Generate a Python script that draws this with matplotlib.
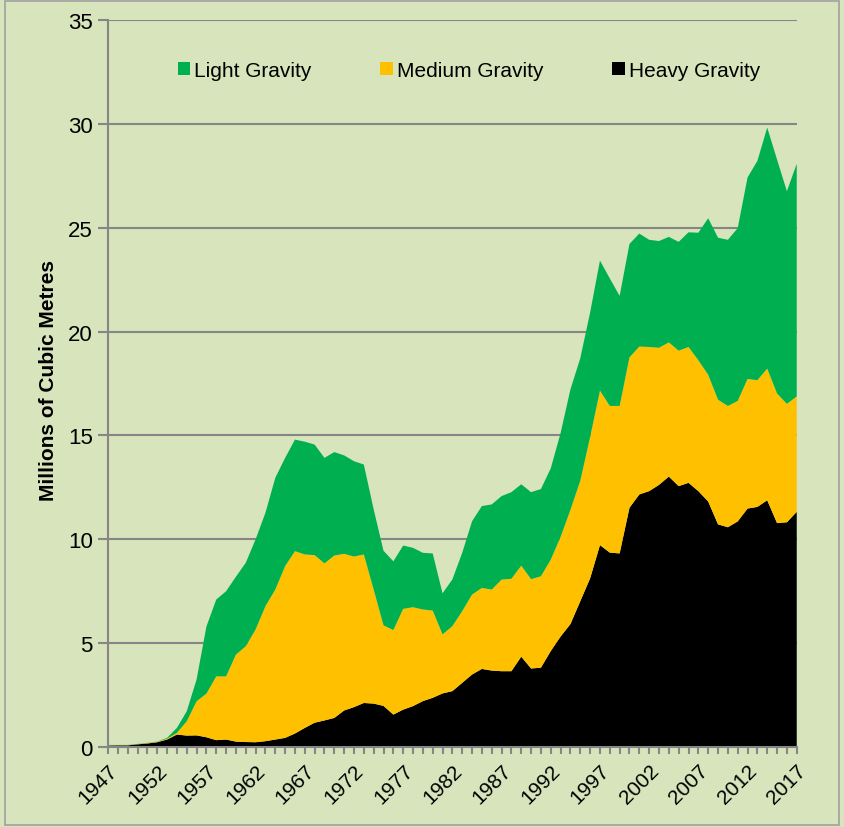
import matplotlib
matplotlib.use("Agg")
import matplotlib.pyplot as plt
from matplotlib.patches import Rectangle
from matplotlib.ticker import MultipleLocator

# values (millions of cubic metres)
years = list(range(1947, 2018))

heavy = [0.07, 0.08, 0.08, 0.13, 0.17, 0.23, 0.36, 0.60, 0.55, 0.56,
         0.47, 0.33, 0.36, 0.26, 0.24, 0.23, 0.28, 0.36, 0.44, 0.65,
         0.92, 1.17, 1.28, 1.40, 1.76, 1.92, 2.12, 2.09, 1.98, 1.56,
         1.80, 1.97, 2.21, 2.37, 2.58, 2.69, 3.09, 3.49, 3.76, 3.68,
         3.65, 3.65, 4.35, 3.78, 3.82, 4.62, 5.32, 5.92, 7.02, 8.12,
         9.72, 9.36, 9.32, 11.52, 12.16, 12.32, 12.62, 13.02, 12.56, 12.72,
         12.32, 11.82, 10.72, 10.58, 10.86, 11.48, 11.56, 11.88, 10.78, 10.82,
         11.32]

medium = [0.01, 0.01, 0.01, 0.01, 0.02, 0.02, 0.04, 0.08, 0.69, 1.64,
          2.10, 3.07, 3.04, 4.19, 4.61, 5.43, 6.50, 7.22, 8.27, 8.78,
          8.35, 8.07, 7.56, 7.82, 7.54, 7.25, 7.15, 5.49, 3.88, 4.07,
          4.85, 4.76, 4.41, 4.20, 2.84, 3.13, 3.45, 3.85, 3.90, 3.90,
          4.41, 4.45, 4.38, 4.30, 4.40, 4.40, 4.80, 5.50, 5.80, 6.80,
          7.44, 7.06, 7.10, 7.24, 7.12, 6.94, 6.60, 6.46, 6.52, 6.54,
          6.30, 6.10, 6.00, 5.84, 5.80, 6.24, 6.10, 6.34, 6.24, 5.70,
          5.56]

light = [0.02, 0.01, 0.01, 0.01, 0.01, 0.01, 0.04, 0.24, 0.48, 1.05,
         3.23, 3.70, 4.10, 3.75, 4.02, 4.34, 4.50, 5.38, 5.21, 5.37,
         5.43, 5.32, 5.08, 4.98, 4.74, 4.59, 4.33, 3.86, 3.59, 3.31,
         3.05, 2.86, 2.73, 2.75, 1.98, 2.25, 2.81, 3.53, 3.94, 4.10,
         4.02, 4.17, 3.92, 4.19, 4.20, 4.40, 5.00, 5.80, 5.90, 6.00,
         6.26, 6.14, 5.30, 5.46, 5.44, 5.16, 5.14, 5.08, 5.24, 5.52,
         6.14, 7.54, 7.80, 8.00, 8.32, 9.70, 10.56, 11.60, 11.26, 10.24,
         11.20]

series_names = ["Heavy Gravity", "Medium Gravity", "Light Gravity"]
series_colors = ["#000000", "#FFC000", "#00B050"]
label_years = list(range(1947, 2018, 5))

bg = "#D8E4BC"
grey = "#868686"

plt.rcParams["font.family"] = ["Liberation Sans", "DejaVu Sans"]

fig = plt.figure(figsize=(8.44, 8.28), dpi=100, facecolor=bg)
ax = fig.add_axes([0.128, 0.0966, 0.816, 0.878])
ax.set_facecolor(bg)

polys = ax.stackplot(years, heavy, medium, light, colors=series_colors,
                     labels=series_names, linewidth=0)

ax.set_xlim(1947, 2017)
ax.set_ylim(0, 35)
ax.yaxis.set_major_locator(MultipleLocator(5))
ax.set_xticks(label_years)
ax.set_xticks(years, minor=True)
ax.set_xticklabels([str(y) for y in label_years], rotation=45, ha="right",
                   rotation_mode="anchor", fontsize=15)
ax.tick_params(axis="y", labelsize=16, length=7, width=1.5, color=grey, pad=4)
ax.tick_params(axis="x", which="both", length=5, width=1.5, color=grey, pad=5)

ax.grid(axis="y", color=grey, linewidth=1.5)
ax.set_axisbelow(True)
for side in ["top", "right"]:
    ax.spines[side].set_visible(False)
for side in ["left", "bottom"]:
    ax.spines[side].set_color(grey)
    ax.spines[side].set_linewidth(1.5)

ax.set_ylabel("Millions of Cubic Metres", fontsize=15, fontweight="bold")
ax.yaxis.set_label_coords(-0.072, 0.505)

handles = [polys[2], polys[1], polys[0]]
leg = ax.legend(handles, [series_names[2], series_names[1], series_names[0]],
                loc="center", bbox_to_anchor=(0.524, 0.931), ncol=3,
                frameon=False, fontsize=15, handlelength=0.6, handleheight=0.6,
                handletextpad=0.2, columnspacing=3.3)

fig.patches.append(Rectangle((0.006, 0.003), 0.988, 0.994, transform=fig.transFigure,
                             fill=False, edgecolor="#A0A0A0", linewidth=1.2))

fig.savefig("out.png", dpi=100, facecolor=bg)
